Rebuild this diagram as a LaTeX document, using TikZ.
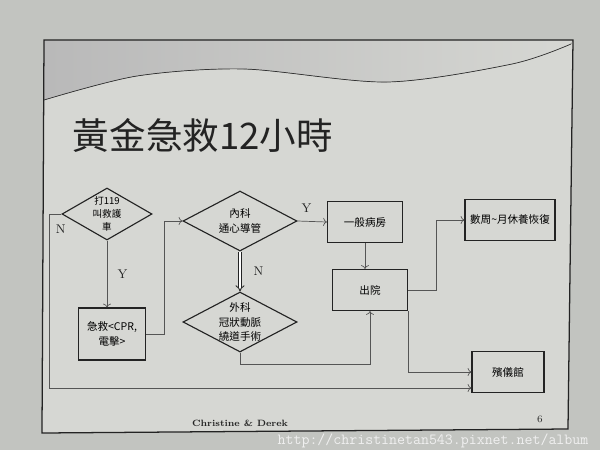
\documentclass[tikz,border=0pt]{standalone}
\usepackage{fontspec}
\newfontfamily\cjk{Noto Sans CJK TC}
\usepackage{tikz}
\usetikzlibrary{positioning, shapes.geometric, arrows.meta}
\definecolor{paper}{RGB}{214,215,211}
\definecolor{desk}{RGB}{194,196,192}
\definecolor{ink}{RGB}{35,35,35}
\definecolor{wire}{RGB}{85,85,85}

\begin{document}
\begin{tikzpicture}[
    x=0.025cm, y=-0.025cm,
    box/.style={draw=ink, line width=0.8pt, minimum width=1.875cm, minimum height=1.025cm,
                align=center, inner sep=1pt, font=\cjk\fontsize{7.5}{10}\selectfont},
    decision/.style={draw=ink, line width=0.8pt, diamond, minimum width=2.85cm,
                minimum height=1.5cm, inner sep=0pt},
    dtext/.style={align=center, font=\cjk\fontsize{7.5}{10}\selectfont},
    arrow/.style={->, wire, line width=0.5pt},
    yn/.style={ink, font=\fontsize{9}{9}\selectfont}
]
% page and slide
\fill[desk] (0,0) rectangle (600,450);
\useasboundingbox (0,0) rectangle (600,450);
\fill[paper] (44,40) -- (573,40) -- (568,429) -- (42,433) -- cycle;
\fill[left color=gray!55, right color=paper] (44,40) -- plot[smooth] coordinates
    {(44,100) (137,76) (244,69) (387,82) (512,64) (571,44)} -- (573,40) -- cycle;
\draw[gray!40!black, line width=0.5pt] plot[smooth] coordinates
    {(44,100) (137,76) (244,69) (387,82) (512,64) (571,44)};
\draw[ink, line width=0.9pt] (44,40) -- (573,40) -- (568,429) -- (42,433) -- cycle;

\node[anchor=west, ink, font=\cjk\fontsize{26}{26}\selectfont] (title) at (68,135) {黃金急救12小時};

% flowchart
\node[decision, minimum width=2.25cm, minimum height=1.3cm,
      label={[dtext, font=\cjk\fontsize{6.8}{9}\selectfont]center:{打119\\叫救護\\車}}] (call) at (107,214) {};
\node[box, minimum width=1.675cm, minimum height=1.3cm] (cpr) at (112,334) {急救<CPR,\\電擊>};
\node[decision, label={[dtext]center:{內科\\通心導管}}] (inmed) at (240,221) {};
\node[decision, label={[dtext]center:{外科\\冠狀動脈\\繞道手術}}] (surg) at (240,322) {};
\node[box] (ward)  at (365,222) {一般病房};
\node[box] (disch) at (370,290) {出院};
\node[box, minimum width=2.25cm] (rest) at (510,220) {數周\textasciitilde 月休養恢復};
\node[box, minimum width=1.8cm] (fun) at (508,372) {殯儀館};

\draw[arrow] (call.south) -- node[yn, right=4pt] {Y} (call.south |- cpr.north);
\draw[arrow] (call.west) -- node[yn, pos=0.05, below=4pt] {N} ++(-12,0) |- ([yshift=-0.4cm]fun.west);
\draw[arrow] (cpr.east) -- ++(18,0) |- (inmed.west);
\draw[arrow] (inmed.east) -- node[yn, pos=0.3, above=3pt] {Y} (ward.west);
\draw[ink, double, double distance=1.6pt, line width=0.6pt, -{Implies}]
    (inmed.south) -- node[yn, right=6pt] {N} (surg.north);
\draw[arrow] (surg.south) -- ++(0,12) -| (disch.south);
\draw[arrow] (ward.south) -- (ward.south |- disch.north);
\draw[arrow] (disch.east) -- ++(28,0) |- (rest.west);
\draw[arrow] (disch.south east) |- (fun.west);

% footer
\node[ink, font=\bfseries\fontsize{6.5}{7}\selectfont] (credit) at (240,423) {Christine \& Derek};
\node[ink, font=\fontsize{7}{7}\selectfont] (page) at (540,419) {6};
\node[white!88!gray, font=\ttfamily\fontsize{11}{11}\selectfont] (mark) at (433,441)
    {http://christinetan543.pixnet.net/album};
\end{tikzpicture}
\end{document}
